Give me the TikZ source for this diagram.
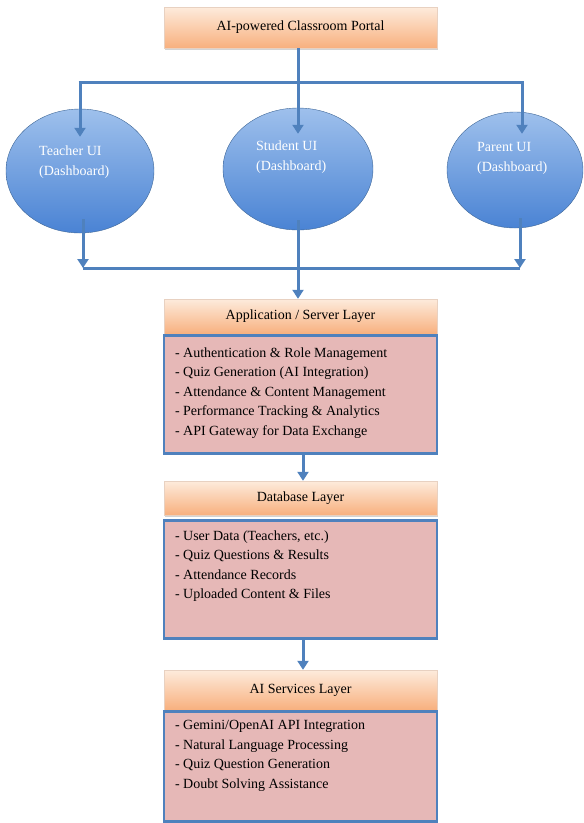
\documentclass[tikz,border=0pt]{standalone}
\usepackage{fontspec}
\setmainfont{Liberation Serif}
\usetikzlibrary{arrows.meta,shadows}
\definecolor{lineblue}{HTML}{4F81BD}
\definecolor{peachtop}{HTML}{FDEBDC}
\definecolor{peachbot}{HTML}{F8B07E}
\definecolor{pinkbody}{HTML}{E6B8B7}
\definecolor{balltop}{HTML}{9EC0EC}
\definecolor{ballbot}{HTML}{4A83D4}
\tikzset{
  link/.style={lineblue,line width=3pt},
  arr/.style={link,-{Triangle[width=11pt,length=9pt]}},
  headbox/.style={rectangle,draw=peachbot!80!black!40,top color=peachtop,bottom color=peachbot,
    minimum width=273pt,inner sep=0pt,font=\fontsize{14}{16}\selectfont,
    drop shadow={shadow xshift=1pt,shadow yshift=-2pt,opacity=.35}},
  bodybox/.style={rectangle,draw=lineblue,line width=2.4pt,fill=pinkbody,minimum width=273pt,inner sep=0pt},
  bodytext/.style={anchor=north west,align=left,inner sep=0pt,font=\fontsize{14}{19.5}\selectfont},
  dashball/.style={ellipse,draw=lineblue!80!black,top color=balltop,bottom color=ballbot,inner sep=0pt},
  balltext/.style={text=white,align=left,inner sep=0pt,font=\fontsize{14}{20}\selectfont}
}
\usetikzlibrary{shapes.geometric}
\begin{document}
\begin{tikzpicture}[x=1pt,y=-1pt]
\useasboundingbox (0,0) rectangle (584,823);
\node[headbox,minimum height=41pt] (portal) at (300.5,27.5) {AI-powered Classroom Portal};

\node[dashball,minimum width=148pt,minimum height=124pt] (teacher) at (80,171) {};
\node[dashball,minimum width=150pt,minimum height=122pt] (student) at (298,169) {};
\node[dashball,minimum width=136pt,minimum height=116pt] (parent) at (515,170) {};
\node[balltext,anchor=west] (teachertxt) at (39,162) {Teacher UI\\(Dashboard)};
\node[balltext,anchor=west] (studenttxt) at (256,157) {Student UI\\(Dashboard)};
\node[balltext,anchor=west] (parenttxt) at (477,158) {Parent UI\\(Dashboard)};

\coordinate (topmid) at (298,82);
\coordinate (topleft) at (80,82);
\coordinate (topright) at (522,82);
\coordinate (botleft) at (83,268);
\coordinate (botmid) at (298,268);
\coordinate (botright) at (520,268);

\draw[link] (portal.south -| topmid) -- (topmid);
\draw[link] ([xshift=-1.5pt]topleft) -- ([xshift=1.5pt]topright);
\draw[arr] (topleft) -- ([yshift=-28pt]teacher.north);
\draw[arr] (topmid) -- ([yshift=-26pt]student.north);
\draw[arr] (topright) -- ([yshift=-22pt]parent.north -| topright);

\draw[arr] ([yshift=14pt]teacher.south -| botleft) -- (botleft);
\draw[arr] ([yshift=10pt]parent.south -| botright) -- (botright);
\draw[link] (botleft) -- (botright);

% server layer
\node[headbox,minimum height=35pt] (apphead) at (300.5,316.5) {Application / Server Layer};
\node[bodybox,minimum height=118pt,anchor=north] (appbody) at (apphead.south) {};
\node[bodytext] (apptxt) at ([xshift=12pt,yshift=-13pt]appbody.north west)
  {- Authentication \& Role Management\\- Quiz Generation (AI Integration)\\- Attendance \& Content Management\\- Performance Tracking \& Analytics\\- API Gateway for Data Exchange};
\draw[arr] ([yshift=10pt]student.south) -- (apphead.north -| student);

% database layer
\node[headbox,minimum height=34pt] (dbhead) at (300.5,498) {Database Layer};
\node[bodybox,minimum height=118pt,anchor=north] (dbbody) at ([yshift=-4pt]dbhead.south) {};
\node[bodytext] (dbtxt) at ([xshift=12pt,yshift=-11pt]dbbody.north west)
  {- User Data (Teachers, etc.)\\- Quiz Questions \& Results\\- Attendance Records\\- Uploaded Content \& Files};
\draw[arr] (appbody.south -| 303,0) -- (dbhead.north -| 303,0);

% ai layer
\node[headbox,minimum height=40pt] (aihead) at (300.5,690) {AI Services Layer};
\node[bodybox,minimum height=110pt,anchor=north] (aibody) at (aihead.south) {};
\node[bodytext] (aitxt) at ([xshift=12pt,yshift=-10pt]aibody.north west)
  {- Gemini/OpenAI API Integration\\- Natural Language Processing\\- Quiz Question Generation\\- Doubt Solving Assistance};
\draw[arr] (dbbody.south -| 303,0) -- (aihead.north -| 303,0);
\end{tikzpicture}
\end{document}
